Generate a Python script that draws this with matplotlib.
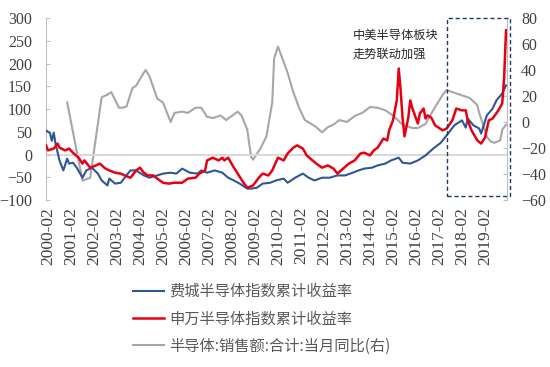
import matplotlib
matplotlib.use("Agg")
import matplotlib.pyplot as plt
from matplotlib.patches import Rectangle

# ---------------- data ----------------
sox_dates = ["2000-01","2000-02","2000-03","2000-04","2000-05","2000-06","2000-07","2000-08","2000-10","2000-12",
             "2001-01","2001-03","2001-05","2001-08","2001-10","2002-01","2002-04","2002-06","2002-09","2002-10",
             "2003-01","2003-04","2003-06","2003-09","2003-12","2004-04","2004-07","2004-11","2005-02","2005-06",
             "2005-09","2005-12","2006-04","2006-08","2006-10","2007-01","2007-05","2007-09","2007-12","2008-03",
             "2008-06","2008-10","2008-12","2009-03","2009-06","2009-10","2010-01","2010-05","2010-07","2010-11",
             "2011-03","2011-06","2011-09","2012-01","2012-05","2012-09","2013-01","2013-05","2013-08","2013-11",
             "2014-03","2014-06","2014-10","2015-01","2015-05","2015-07","2015-11","2016-03","2016-07","2016-11",
             "2017-03","2017-06","2017-10","2018-02","2018-04","2018-05","2018-08","2018-11","2018-12","2019-03",
             "2019-06","2019-08","2019-11","2020-01"]
sox_vals = [53, 50, 48, 30, 48, 22, 5, -13, -35, -9,
            -20, -18, -29, -51, -35, -29, -42, -57, -68, -53,
            -64, -62, -51, -35, -35, -46, -51, -46, -42, -40,
            -42, -31, -40, -42, -35, -40, -35, -40, -51, -57,
            -64, -75, -75, -73, -64, -62, -57, -53, -62, -51,
            -42, -51, -57, -51, -51, -46, -46, -40, -35, -31,
            -29, -24, -20, -13, -7, -18, -20, -13, -2, 13,
            26, 42, 64, 75, 59, 79, 64, 57, 46, 86,
            101, 119, 134, 152]

sw_dates = ["2000-01","2000-02","2000-05","2000-07","2000-08","2000-11","2001-01","2001-03","2001-06","2001-08",
            "2001-09","2001-12","2002-03","2002-05","2002-08","2002-10","2003-01","2003-04","2003-06","2003-09",
            "2003-10","2003-12","2004-02","2004-04","2004-06","2004-09","2004-11","2005-02","2005-05","2005-08",
            "2005-12","2006-03","2006-07","2006-09","2006-12","2007-01","2007-04","2007-05","2007-07","2007-09",
            "2007-10","2007-12","2008-03","2008-05","2008-08","2008-10","2009-01","2009-04","2009-06","2009-09",
            "2009-11","2010-02","2010-05","2010-07","2010-10","2010-12","2011-03","2011-05","2011-08","2011-10",
            "2012-01","2012-04","2012-07","2012-09","2012-12","2013-03","2013-06","2013-09","2013-11","2014-02",
            "2014-04","2014-06","2014-09","2014-11","2014-12","2015-02","2015-04","2015-05","2015-06","2015-07",
            "2015-08","2015-10","2015-11","2015-12","2016-03","2016-04","2016-06","2016-07","2016-08","2016-10",
            "2016-12","2017-04","2017-06","2017-09","2017-11","2018-02","2018-04","2018-05","2018-07","2018-10",
            "2018-12","2019-02","2019-04","2019-06","2019-09","2019-11","2019-12","2020-01"]
sw_vals = [20, 9, 13, 24, 15, 9, 13, 4, -7, -20,
           -13, -29, -24, -20, -31, -35, -40, -42, -46, -51,
           -46, -35, -29, -40, -46, -46, -53, -62, -64, -62,
           -62, -53, -51, -42, -35, -13, -7, -9, -13, -7,
           -13, -7, -29, -42, -62, -73, -68, -51, -42, -46,
           -35, -7, -13, 2, 15, 20, 13, -2, -13, -20,
           -29, -24, -31, -42, -31, -20, -13, 2, 4, -2,
           9, 15, 35, 31, 53, 75, 119, 189, 141, 81,
           40, 81, 119, 103, 68, 90, 101, 79, 86, 81,
           64, 53, 57, 75, 101, 97, 97, 75, 53, 31,
           24, 37, 75, 79, 97, 112, 169, 273]

sales_dates = ["2000-12","2001-08","2001-12","2002-06","2002-09","2002-11","2003-03","2003-05","2003-07","2003-10",
               "2003-12","2004-04","2004-05","2004-07","2004-11","2005-02","2005-06","2005-08","2005-12","2006-03",
               "2006-07","2006-10","2007-01","2007-04","2007-08","2007-11","2008-05","2008-07","2008-10","2008-12",
               "2009-01","2009-05","2009-08","2009-11","2009-12","2010-02","2010-04","2010-07","2010-10","2011-01",
               "2011-04","2011-08","2011-10","2012-01","2012-04","2012-07","2012-10","2013-02","2013-06","2013-10",
               "2014-02","2014-06","2014-10","2015-02","2015-07","2015-12","2016-03","2016-07","2016-08","2016-12",
               "2017-04","2017-06","2017-09","2018-01","2018-06","2018-10","2018-11","2019-01","2019-03","2019-05",
               "2019-07","2019-10","2019-11","2020-01"]
sales_vals = [15, -45, -43, 19, 21, 23, 11, 11, 12, 26,
              28, 38, 40, 35, 18, 15, 0, 7, 8, 7,
              11, 11, 4, 3, 5, 1.5, 8, 5, -6, -27,
              -29, -20, -11, 15, 49, 58, 50, 38, 23, 11,
              1.5, -2, -4, -8, -4, -2, 1.5, 0, 4.6, 7,
              11.5, 11, 9, 5, -2, -4.6, -4.6, -1.5, 1.5, 11.5,
              21, 24.6, 23, 21, 18.5, 13, 7, -2, -11.5, -15,
              -16, -14, -6, -2]

tick_years = list(range(2000, 2020))
tick_labels = [f"{y}-02" for y in tick_years]

legend_labels = ["费城半导体指数累计收益率", "申万半导体指数累计收益率", "半导体:销售额:合计:当月同比(右)"]
note_text = "中美半导体板块\n走势联动加强"
box_dates = ("2017-06", "2020-03")
box_vals = (301, -91)


def to_m(s):
    y, mo = map(int, s.split("-"))
    return (y - 2000) * 12 + (mo - 2)


# ---------------- figure ----------------
plt.rcParams["font.serif"] = ["Liberation Serif", "DejaVu Serif"]
SERIF = "serif"
CJK = ["Noto Sans CJK SC", "DejaVu Sans"]
TXT = "#404040"
AXC = "#bfbfbf"

fig = plt.figure(figsize=(5.5, 3.67), dpi=100)
fig.patch.set_facecolor("white")
ax = fig.add_axes([46 / 550, 1 - 200 / 367, (507 - 46) / 550, (200 - 18) / 367])
ax2 = ax.twinx()
ax.set_zorder(ax2.get_zorder() + 1)
ax.patch.set_visible(False)

# zero line
ax.axhline(0, color="#d9d9d9", lw=1.5, zorder=1)

l3, = ax2.plot([to_m(d) for d in sales_dates], sales_vals, color="#a6a6a6", lw=1.5)
l1, = ax.plot([to_m(d) for d in sox_dates], sox_vals, color="#2f5597", lw=1.5, zorder=3)
l2, = ax.plot([to_m(d) for d in sw_dates], sw_vals, color="#e60012", lw=1.8, zorder=4)

ax.set_xlim(-1.04, 239.5)
ax.set_ylim(-100, 300)
ax2.set_ylim(-60, 80)
ax.set_yticks(range(-100, 301, 50))
ax2.set_yticks(range(-60, 81, 20))

ax.set_xticks([to_m(t) for t in tick_labels])
ax.set_xticklabels(tick_labels, rotation=90, fontfamily=SERIF, fontsize=12.5, color=TXT)

for a in (ax, ax2):
    for s in ("top", "bottom"):
        a.spines[s].set_visible(False)
ax.spines["left"].set_color(AXC)
ax.spines["right"].set_visible(False)
ax2.spines["left"].set_visible(False)
ax2.spines["right"].set_color(AXC)

ax.tick_params(axis="x", length=0, pad=5)
ax.tick_params(axis="y", direction="in", length=3, color=AXC, pad=10, labelsize=11.5, labelcolor=TXT)
ax2.tick_params(axis="y", direction="in", length=3, color=AXC, pad=10, labelsize=11.5, labelcolor=TXT)
for lab in ax.get_yticklabels() + ax2.get_yticklabels():
    lab.set_fontfamily(SERIF)

# dashed highlight box
x0, x1 = to_m(box_dates[0]), to_m(box_dates[1])
rect = Rectangle((x0, box_vals[1]), x1 - x0, box_vals[0] - box_vals[1], fill=False,
                 edgecolor="#1f3864", lw=1.0, ls=(0, (3, 2)), clip_on=False, zorder=6)
ax.add_patch(rect)

# annotation
ax.text(to_m("2013-05"), 276, note_text, family=CJK, fontsize=8.8, color="#262626",
        va="top", ha="left", linespacing=1.55, zorder=7)

# legend
leg = fig.legend([l1, l2, l3], legend_labels, loc="upper left",
                 bbox_to_anchor=(133 / 550, 1 - 283 / 367), frameon=False,
                 prop={"family": CJK, "size": 11}, handlelength=2.0, handletextpad=0.35,
                 labelspacing=0.68, borderpad=0, borderaxespad=0)
for t in leg.get_texts():
    t.set_color("#595959")

fig.savefig("out.png", dpi=100, facecolor="white")
